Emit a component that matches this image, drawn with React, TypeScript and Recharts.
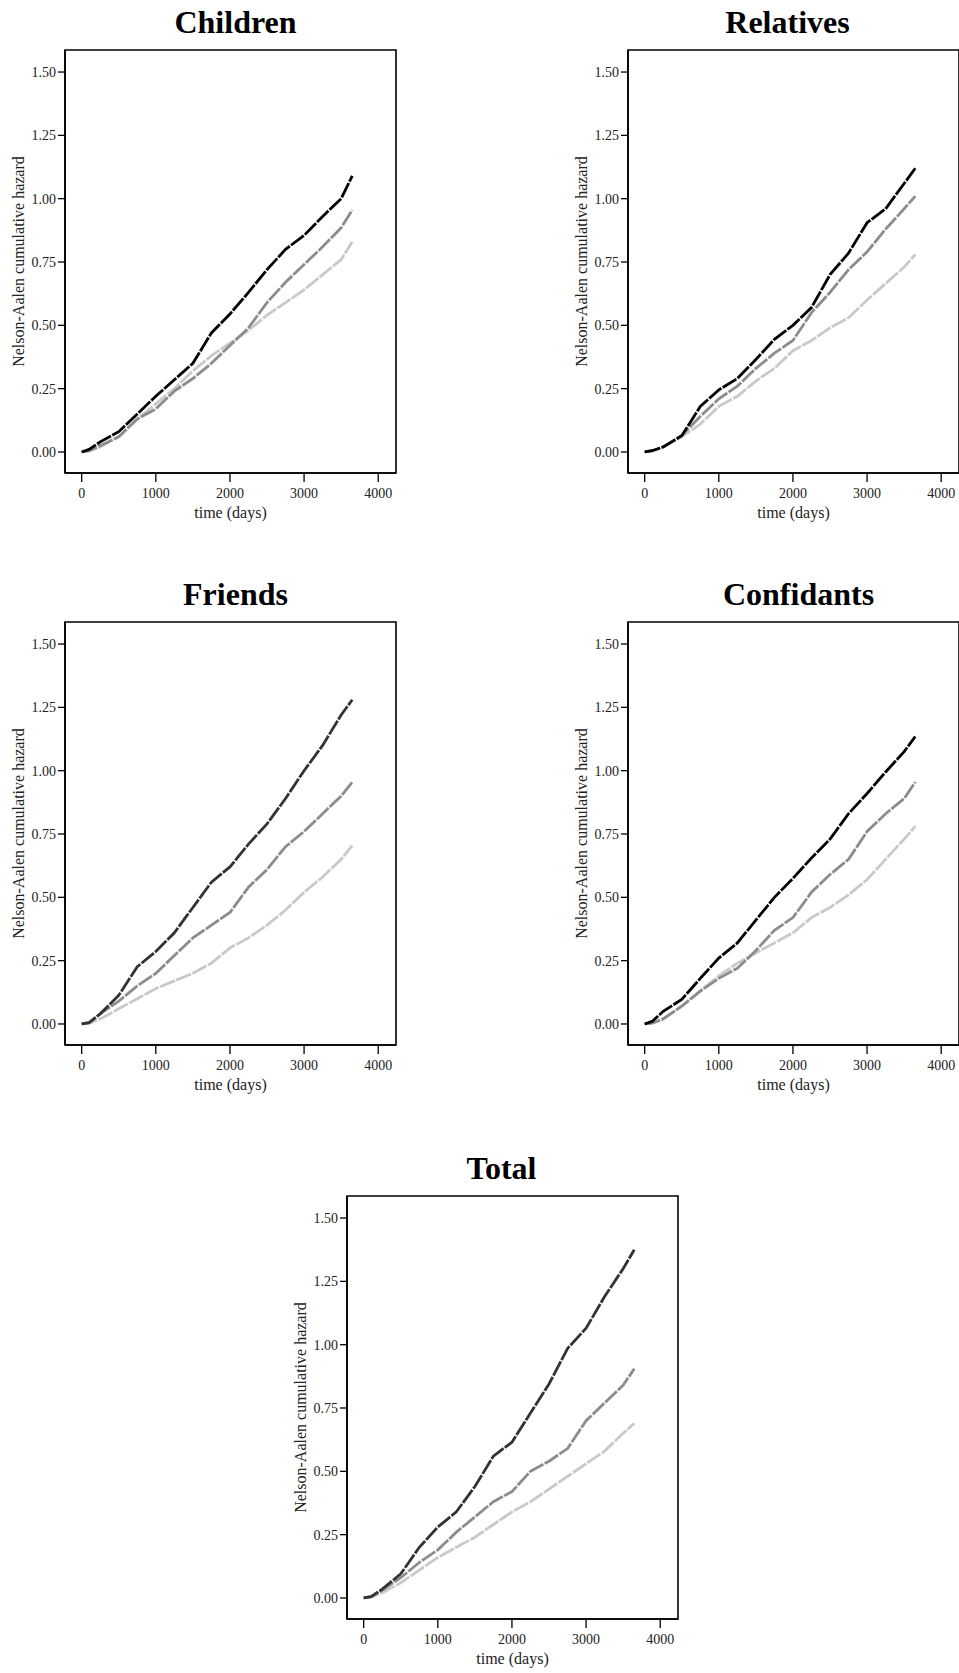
import { LineChart, Line, XAxis, YAxis, ReferenceArea } from "recharts";

const days = [0, 100, 250, 500, 750, 1000, 1250, 1500, 1750, 2000, 2250, 2500, 2750, 3000, 3250, 3500, 3650];

const childrenHigh = [0, 0.01, 0.04, 0.08, 0.15, 0.22, 0.285, 0.35, 0.47, 0.545, 0.63, 0.72, 0.8, 0.855, 0.93, 1.0, 1.09];
const childrenMid = [0, 0.005, 0.025, 0.06, 0.13, 0.17, 0.24, 0.29, 0.35, 0.42, 0.49, 0.59, 0.67, 0.74, 0.81, 0.885, 0.955];
const childrenLow = [0, 0.003, 0.02, 0.06, 0.13, 0.19, 0.25, 0.32, 0.38, 0.43, 0.48, 0.54, 0.59, 0.64, 0.7, 0.76, 0.83];

const relativesHigh = [0, 0.005, 0.02, 0.064, 0.18, 0.245, 0.29, 0.365, 0.445, 0.5, 0.57, 0.7, 0.785, 0.905, 0.96, 1.06, 1.12];
const relativesMid = [0, 0.005, 0.02, 0.065, 0.14, 0.21, 0.26, 0.33, 0.39, 0.44, 0.55, 0.63, 0.72, 0.79, 0.88, 0.96, 1.01];
const relativesLow = [0, 0.003, 0.02, 0.06, 0.11, 0.18, 0.22, 0.28, 0.33, 0.4, 0.44, 0.49, 0.53, 0.6, 0.665, 0.73, 0.78];

const friendsHigh = [0, 0.005, 0.04, 0.113, 0.226, 0.286, 0.36, 0.46, 0.56, 0.62, 0.71, 0.79, 0.89, 1.0, 1.1, 1.22, 1.28];
const friendsMid = [0, 0.005, 0.04, 0.09, 0.15, 0.2, 0.27, 0.34, 0.39, 0.44, 0.54, 0.61, 0.7, 0.76, 0.83, 0.9, 0.955];
const friendsLow = [0, 0.002, 0.02, 0.06, 0.1, 0.14, 0.17, 0.2, 0.24, 0.3, 0.34, 0.39, 0.45, 0.52, 0.58, 0.65, 0.705];

const confidantsHigh = [0, 0.01, 0.05, 0.097, 0.18, 0.26, 0.32, 0.41, 0.5, 0.575, 0.655, 0.73, 0.83, 0.91, 0.995, 1.075, 1.135];
const confidantsMid = [0, 0.003, 0.02, 0.07, 0.13, 0.18, 0.22, 0.29, 0.37, 0.42, 0.52, 0.59, 0.65, 0.76, 0.83, 0.89, 0.955];
const confidantsLow = [0, 0.003, 0.02, 0.07, 0.13, 0.19, 0.24, 0.28, 0.32, 0.36, 0.42, 0.46, 0.51, 0.57, 0.65, 0.73, 0.78];

const totalHigh = [0, 0.005, 0.035, 0.095, 0.2, 0.28, 0.34, 0.44, 0.56, 0.615, 0.73, 0.845, 0.985, 1.065, 1.19, 1.3, 1.375];
const totalMid = [0, 0.005, 0.03, 0.08, 0.14, 0.19, 0.26, 0.32, 0.38, 0.42, 0.5, 0.54, 0.59, 0.7, 0.77, 0.84, 0.905];
const totalLow = [0, 0.003, 0.02, 0.06, 0.11, 0.16, 0.2, 0.24, 0.29, 0.34, 0.38, 0.43, 0.48, 0.53, 0.58, 0.65, 0.69];

const xTicks = [0, 1000, 2000, 3000, 4000];
const yTicks = [0, 0.25, 0.5, 0.75, 1, 1.25, 1.5];

const SERIF = '"Liberation Serif", "Times New Roman", serif';
const FRAME_W = 331;
const FRAME_H = 423;
const Y_AXIS_W = 65;
const TOP = 50;
const X_AXIS_H = 57;
const X_DOMAIN: [number, number] = [-225, 4240];
const Y_DOMAIN: [number, number] = [-0.083, 1.587];

interface Panel {
  title: string;
  left: number;
  top: number;
  titleX: number;
  high: number[];
  mid: number[];
  low: number[];
  highColor: string;
}

const panels: Panel[] = [
  { title: "Children", left: 65, top: 50, titleX: 170.5, high: childrenHigh, mid: childrenMid, low: childrenLow, highColor: "#000" },
  { title: "Relatives", left: 627.5, top: 50, titleX: 160, high: relativesHigh, mid: relativesMid, low: relativesLow, highColor: "#000" },
  { title: "Friends", left: 65, top: 622, titleX: 170.5, high: friendsHigh, mid: friendsMid, low: friendsLow, highColor: "#333" },
  { title: "Confidants", left: 627.5, top: 622, titleX: 171, high: confidantsHigh, mid: confidantsMid, low: confidantsLow, highColor: "#000" },
  { title: "Total", left: 347, top: 1196, titleX: 154.5, high: totalHigh, mid: totalMid, low: totalLow, highColor: "#333" },
];

const tickStyle = { fontSize: 14, fontFamily: SERIF, fill: "#222" };
const labelStyle = { fontSize: 16, fontFamily: SERIF, fill: "#222" };
const LINE_W = 2.8;
const DASH = "16 1.5";

function HazardPanel({ p }: { p: Panel }) {
  const data = days.map((day, i) => ({ day, high: p.high[i], mid: p.mid[i], low: p.low[i] }));

  return (
    <div style={{ position: "absolute", left: p.left - Y_AXIS_W, top: p.top - TOP }}>
      <div
        style={{
          position: "absolute",
          left: Y_AXIS_W + p.titleX,
          top: TOP - 17.5 - 26.8,
          transform: "translateX(-50%)",
          fontFamily: SERIF,
          fontWeight: "bold",
          fontSize: 32,
          lineHeight: "32px",
          whiteSpace: "nowrap",
          color: "#000",
        }}
      >
        {p.title}
      </div>
      <LineChart
        width={Y_AXIS_W + FRAME_W + 5}
        height={TOP + FRAME_H + X_AXIS_H}
        data={data}
        margin={{ top: TOP, right: 5, bottom: 0, left: 0 }}
      >
        <XAxis
          dataKey="day"
          type="number"
          domain={X_DOMAIN}
          ticks={xTicks}
          interval={0}
          allowDataOverflow
          height={X_AXIS_H}
          tickSize={9}
          tickMargin={6}
          stroke="#000"
          axisLine={{ strokeWidth: 1.6 }}
          tickLine={{ strokeWidth: 1.3 }}
          tick={tickStyle}
          label={{ value: "time (days)", position: "insideBottom", offset: 12, style: labelStyle }}
        />
        <YAxis
          type="number"
          domain={Y_DOMAIN}
          ticks={yTicks}
          interval={0}
          allowDataOverflow
          width={Y_AXIS_W}
          tickSize={7}
          tickMargin={2}
          tickFormatter={(v: number) => v.toFixed(2)}
          stroke="#000"
          axisLine={{ strokeWidth: 1.6 }}
          tickLine={{ strokeWidth: 1.3 }}
          tick={tickStyle}
          label={{
            value: "Nelson-Aalen cumulative hazard",
            angle: -90,
            position: "insideLeft",
            offset: 18,
            style: { ...labelStyle, textAnchor: "middle" },
          }}
        />

        {/* plot frame */}
        <ReferenceArea
          x1={X_DOMAIN[0]}
          x2={X_DOMAIN[1]}
          y1={Y_DOMAIN[0]}
          y2={Y_DOMAIN[1]}
          fill="none"
          stroke="#000"
          strokeWidth={1.6}
          ifOverflow="visible"
        />

        <Line type="linear" dataKey="low" stroke="#c9c9c9" strokeWidth={LINE_W} strokeDasharray={DASH} dot={false} isAnimationActive={false} />
        <Line type="linear" dataKey="mid" stroke="#8c8c8c" strokeWidth={LINE_W} strokeDasharray={DASH} dot={false} isAnimationActive={false} />
        <Line type="linear" dataKey="high" stroke={p.highColor} strokeWidth={LINE_W} strokeDasharray={DASH} dot={false} isAnimationActive={false} />
      </LineChart>
    </div>
  );
}

export default function App() {
  return (
    <div
      style={{
        position: "absolute",
        left: 0,
        top: 0,
        width: 959,
        height: 1673,
        overflow: "hidden",
        background: "#fff",
      }}
    >
      {panels.map((p) => (
        <HazardPanel key={p.title} p={p} />
      ))}
    </div>
  );
}
